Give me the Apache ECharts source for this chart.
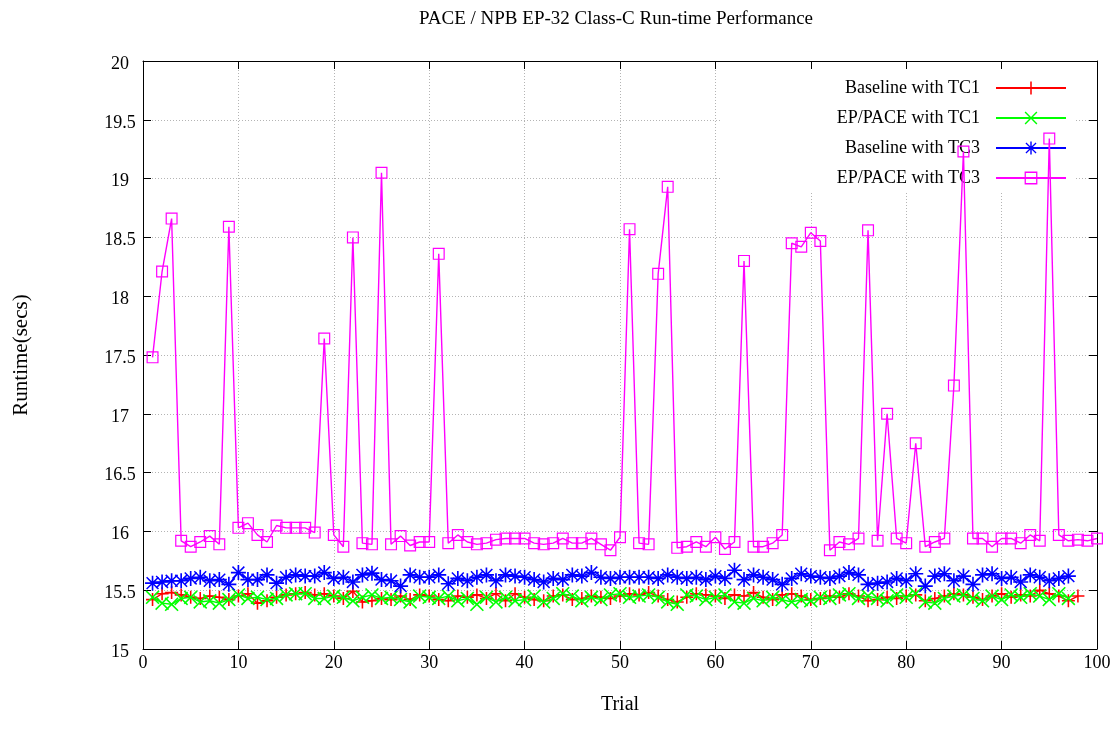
<!DOCTYPE html>
<html>
<head>
<meta charset="utf-8">
<script src="https://cdn.jsdelivr.net/npm/echarts@6/dist/echarts.min.js"></script>
<style>html,body{margin:0;padding:0;background:#fff}#c{width:1119px;height:740px}</style>
</head>
<body>
<div id="c"></div>
<script>
const titleText = 'PACE / NPB EP-32 Class-C Run-time Performance';
const xName = 'Trial';
const yName = 'Runtime(secs)';
const seriesNames = ['Baseline with TC1', 'EP/PACE with TC1', 'Baseline with TC3', 'EP/PACE with TC3'];

const baselineTC1 = [
15.42,15.47,15.48,15.46,15.44,15.43,15.45,15.44,15.42,15.45,
15.47,15.39,15.41,15.44,15.46,15.47,15.48,15.46,15.47,15.45,
15.43,15.49,15.40,15.41,15.43,15.42,15.45,15.42,15.46,15.45,
15.42,15.41,15.45,15.44,15.46,15.43,15.47,15.41,15.47,15.44,
15.42,15.41,15.45,15.46,15.42,15.43,15.45,15.44,15.43,15.45,
15.47,15.46,15.48,15.45,15.42,15.40,15.44,15.47,15.46,15.45,
15.43,15.46,15.45,15.48,15.44,15.42,15.46,15.47,15.45,15.42,
15.43,15.45,15.44,15.47,15.45,15.41,15.42,15.44,15.43,15.45,
15.46,15.41,15.43,15.45,15.47,15.46,15.44,15.42,15.45,15.47,
15.44,15.46,15.45,15.50,15.47,15.45,15.41,15.45];

const epPaceTC1 = [
15.44,15.39,15.38,15.43,15.44,15.40,15.41,15.39,15.42,15.46,
15.43,15.44,15.42,15.43,15.46,15.47,15.47,15.43,15.43,15.45,
15.44,15.41,15.44,15.46,15.43,15.44,15.42,15.40,15.45,15.44,
15.43,15.45,15.41,15.43,15.38,15.44,15.40,15.44,15.41,15.42,
15.45,15.40,15.43,15.47,15.45,15.41,15.44,15.42,15.46,15.47,
15.44,15.45,15.46,15.44,15.40,15.38,15.46,15.45,15.42,15.44,
15.46,15.40,15.39,15.43,15.41,15.44,15.42,15.40,15.42,15.41,
15.44,15.43,15.46,15.47,15.43,15.45,15.43,15.41,15.46,15.44,
15.47,15.40,15.39,15.43,15.45,15.46,15.43,15.41,15.45,15.42,
15.46,15.44,15.47,15.45,15.42,15.47,15.43];

const baselineTC3 = [
15.56,15.57,15.58,15.58,15.60,15.61,15.58,15.59,15.55,15.65,
15.59,15.59,15.63,15.56,15.61,15.63,15.62,15.62,15.65,15.60,
15.61,15.57,15.63,15.645,15.59,15.58,15.535,15.63,15.61,15.61,
15.63,15.555,15.60,15.58,15.61,15.63,15.58,15.63,15.62,15.61,
15.59,15.57,15.60,15.59,15.63,15.62,15.65,15.61,15.60,15.61,
15.61,15.61,15.61,15.60,15.63,15.61,15.60,15.61,15.59,15.62,
15.60,15.67,15.59,15.63,15.61,15.59,15.55,15.60,15.64,15.62,
15.61,15.60,15.62,15.65,15.63,15.55,15.56,15.57,15.60,15.58,
15.64,15.535,15.62,15.64,15.58,15.62,15.55,15.63,15.64,15.60,
15.61,15.57,15.63,15.61,15.58,15.60,15.62];

const epPaceTC3 = [
17.48,18.21,18.66,15.92,15.87,15.91,15.96,15.89,18.59,16.03,
16.07,15.97,15.91,16.05,16.03,16.03,16.03,15.99,17.64,15.97,
15.87,18.50,15.90,15.89,19.05,15.89,15.96,15.88,15.91,15.91,
18.36,15.90,15.97,15.91,15.89,15.90,15.93,15.94,15.94,15.94,
15.90,15.89,15.90,15.94,15.90,15.90,15.94,15.89,15.84,15.95,
18.57,15.90,15.89,18.19,18.93,15.86,15.87,15.91,15.87,15.95,
15.85,15.91,18.30,15.87,15.87,15.90,15.97,18.45,18.42,18.54,
18.47,15.84,15.91,15.89,15.94,18.56,15.92,17.00,15.94,15.90,
16.75,15.87,15.91,15.94,17.24,19.23,15.94,15.94,15.87,15.94,
15.94,15.90,15.97,15.92,19.34,15.97,15.92,15.93,15.92,15.94];

const seriesValues = [baselineTC1, epPaceTC1, baselineTC3, epPaceTC3];
const seriesColors = ['#ff0000', '#00ff00', '#0000ff', '#ff00ff'];

const PLUS = 'path://M4.4,0H5.6V4.4H10V5.6H5.6V10H4.4V5.6H0V4.4H4.4Z';
const CROSS = 'path://M0,0.8L0.8,0L5,4.2L9.2,0L10,0.8L5.8,5L10,9.2L9.2,10L5,5.8L0.8,10L0,9.2L4.2,5Z';
const STAR = 'path://M4.45,0H5.55V4.45H10V5.55H5.55V10H4.45V5.55H0V4.45H4.45Z M0.7,1.4L1.4,0.7L5,4.3L8.6,0.7L9.3,1.4L5.7,5L9.3,8.6L8.6,9.3L5,5.7L1.4,9.3L0.7,8.6L4.3,5Z';
const SQUARE = 'path://M0,0H12V12H0Z M1.2,1.2V10.8H10.8V1.2Z';
const symbols = [PLUS, CROSS, STAR, SQUARE];
const symbolSizes = [13, 14, 15, 12];

const font = 'Liberation Serif';

const series = seriesNames.map((name, k) => ({
  name: name,
  type: 'line',
  xAxisIndex: 0,
  yAxisIndex: 0,
  data: seriesValues[k].map((v, i) => [i + 1, v]),
  symbol: symbols[k],
  symbolSize: symbolSizes[k],
  showSymbol: true,
  showAllSymbol: true,
  itemStyle: { color: seriesColors[k], borderWidth: 0 },
  lineStyle: { color: seriesColors[k], width: 1.4 },
  emphasis: { disabled: true },
  z: 2 + k
}));

const tickStyle = { show: true, inside: true, length: 8, lineStyle: { color: '#000', width: 1 } };
const gridLine = { show: true, lineStyle: { color: '#b4b4b4', type: [1, 2], width: 1 } };

const chart = echarts.init(document.getElementById('c'), null, { renderer: 'canvas' });
chart.setOption({
  animation: false,
  backgroundColor: '#fff',
  title: {
    text: titleText,
    left: 611,
    top: 5,
    textAlign: 'center',
    textStyle: { fontFamily: font, fontSize: 19, fontWeight: 'normal', color: '#000' }
  },
  grid: { left: 143, right: 22, top: 61, bottom: 91, containLabel: false },
  legend: {
    orient: 'vertical',
    right: 47,
    top: 74,
    align: 'right',
    itemWidth: 70,
    itemHeight: 16,
    itemGap: 12,
    selectedMode: false,
    textStyle: { fontFamily: font, fontSize: 18, color: '#000', padding: [0, 11, 0, 0] },
    data: seriesNames
  },
  graphic: [{
    type: 'rect',
    left: 720, top: 62,
    shape: { width: 355, height: 131 },
    style: { fill: '#fff' },
    z: 1,
    silent: true
  }],
  xAxis: [{
    type: 'value', position: 'bottom', min: 0, max: 100, interval: 10,
    name: xName, nameLocation: 'middle', nameGap: 46,
    nameTextStyle: { fontFamily: font, fontSize: 20, color: '#000' },
    axisLine: { show: true, onZero: false, lineStyle: { color: '#000', width: 1 } },
    axisTick: tickStyle,
    axisLabel: { fontFamily: font, fontSize: 18, color: '#000', margin: 5 },
    splitLine: gridLine,
    z: 0
  }, {
    type: 'value', position: 'top', min: 0, max: 100, interval: 10,
    axisLine: { show: true, onZero: false, lineStyle: { color: '#000', width: 1 } },
    axisTick: tickStyle,
    axisLabel: { show: false },
    splitLine: { show: false },
    z: 3
  }],
  yAxis: [{
    type: 'value', position: 'left', min: 15, max: 20, interval: 0.5,
    name: yName, nameLocation: 'middle', nameGap: 111, nameRotate: 90,
    nameTextStyle: { fontFamily: font, fontSize: 21, color: '#000' },
    axisLine: { show: true, onZero: false, lineStyle: { color: '#000', width: 1 } },
    axisTick: tickStyle,
    axisLabel: { fontFamily: font, fontSize: 18, color: '#000', margin: 23, align: 'center', verticalAlign: 'top', lineHeight: 6 },
    splitLine: gridLine,
    z: 0
  }, {
    type: 'value', position: 'right', min: 15, max: 20, interval: 0.5,
    axisLine: { show: true, onZero: false, lineStyle: { color: '#000', width: 1 } },
    axisTick: tickStyle,
    axisLabel: { show: false },
    splitLine: { show: false },
    z: 3
  }],
  series: series
});
</script>
</body>
</html>
